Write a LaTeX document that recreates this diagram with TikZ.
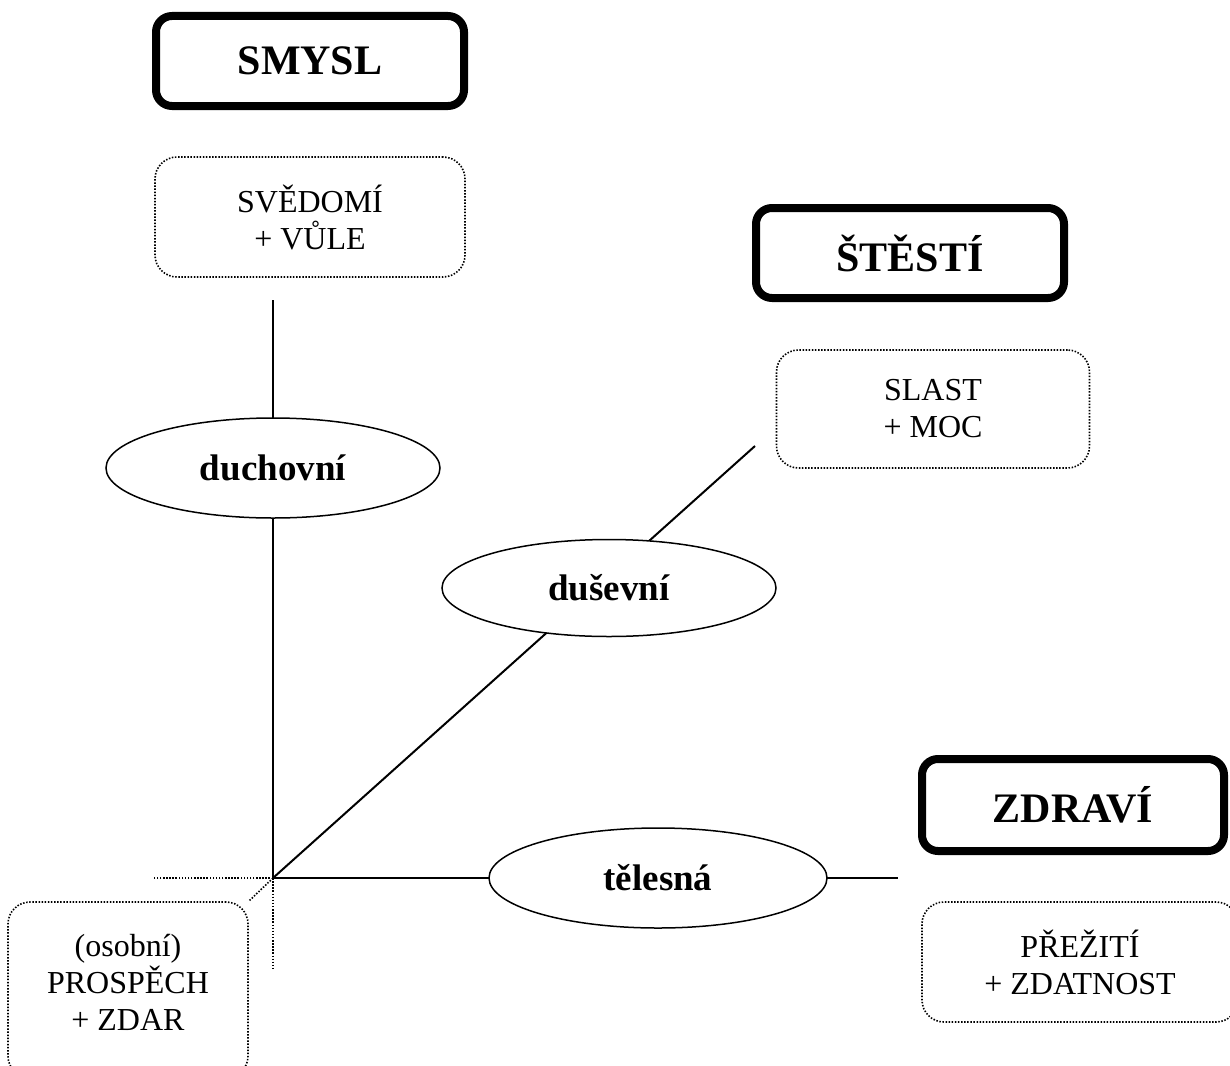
\documentclass[tikz,border=0pt]{standalone}
\usepackage{fontspec}
\setmainfont{Liberation Serif}
\usetikzlibrary{shapes.geometric}

\begin{document}
\begin{tikzpicture}[x=1pt, y=-1pt,
  hlavni/.style={draw, line width=8pt, rounded corners=16pt, minimum width=308pt,
    minimum height=90pt, font=\fontsize{42}{48}\selectfont\bfseries},
  popis/.style={draw, line width=1.6pt, dash pattern=on 1.5pt off 1.6pt, rounded corners=22pt,
    minimum width=310pt, minimum height=120pt, align=center, font=\fontsize{32}{37}\selectfont},
  oblast/.style={draw, ellipse, fill=white, line width=1.5pt, minimum width=334pt,
    minimum height=100pt, inner sep=0pt, font=\fontsize{37}{42}\selectfont\bfseries},
  osa/.style={line width=2pt},
  tecky/.style={line width=1.6pt, dash pattern=on 1.5pt off 1.6pt}]
   %Rahmen
   \useasboundingbox (0,0) rectangle (1230,1065);
   \clip (0,0) rectangle (1230,1065);

\coordinate(o) at (273,878);
\coordinate(oben) at (273,300);
\coordinate(rechts) at (898,878);
\coordinate(schraeg) at (755,446);
\coordinate(links) at (153,878);
\coordinate(unten) at (273,970);

%Ziele
\node[hlavni] (smysl) at (310,61) {SMYSL};
\node[hlavni] (stesti) at (910,253) {ŠTĚSTÍ};
\node[hlavni, minimum width=302pt, minimum height=92pt] (zdravi) at (1073,805) {ZDRAVÍ};

%Werte
\node[popis] (svedomi) at (310,217) {SVĚDOMÍ\\+ VŮLE};
\node[popis, minimum width=313pt, minimum height=118pt] (slast) at (933,409) {SLAST\\+ MOC};
\node[popis, minimum width=316pt] (preziti) at (1080,962) {PŘEŽITÍ\\+ ZDATNOST};
\node[popis, minimum width=240pt, minimum height=176pt] (prospech) at (128,990) {(osobní)\\PROSPĚCH\\+ ZDAR\\[-21pt]};

%Achsen
\draw[osa] (o) -- (oben);
\draw[osa] (o) -- (rechts);
\draw[osa] (o) -- (schraeg);
\draw[tecky] (o) -- (links);
\draw[tecky] (o) -- (unten);
\draw[tecky] (o) -- (prospech.north east);

%Ebenen
\node[oblast] (duchovni) at (273,468) {duchovní};
\node[oblast, minimum height=97pt] (dusevni) at (609,588) {duševní};
\node[oblast, minimum width=338pt] (telesna) at (658,878) {tělesná};
\end{tikzpicture}
\end{document}
